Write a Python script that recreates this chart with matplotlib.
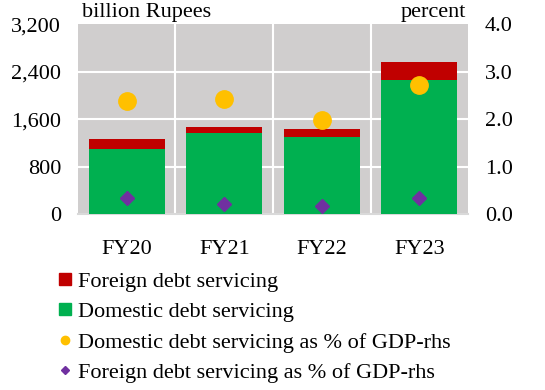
import matplotlib.pyplot as plt
from matplotlib.lines import Line2D

# values
years = ["FY20", "FY21", "FY22", "FY23"]
domestic = [1095, 1364, 1297, 2262]      # billion Rupees
foreign = [168, 101, 135, 298]           # billion Rupees
domestic_gdp = [2.39, 2.43, 1.98, 2.72]  # percent (rhs)
foreign_gdp = [0.33, 0.21, 0.17, 0.34]   # percent (rhs)
left_ticks = [0, 800, 1600, 2400, 3200]
right_ticks = [0.0, 1.0, 2.0, 3.0, 4.0]

RED = "#C00000"
GREEN = "#00B050"
YELLOW = "#FFC000"
PURPLE = "#7030A0"
BG = "#D0CECE"

plt.rcParams["font.family"] = ["Liberation Serif", "DejaVu Serif"]
plt.rcParams["font.size"] = 16

fig = plt.figure(figsize=(5.45, 3.9), dpi=100)
ax = fig.add_axes([0.143, 0.451, 0.716, 0.487])
ax.set_facecolor(BG)

x = list(range(len(years)))
ax.bar(x, domestic, width=0.78, color=GREEN, zorder=3)
ax.bar(x, foreign, width=0.78, bottom=domestic, color=RED, zorder=3)

ax.set_xlim(-0.5, 3.5)
ax.set_ylim(0, 3200)
ax.set_yticks(left_ticks)
ax.set_yticklabels([f"{v:,}" for v in left_ticks])
ax.set_xticks(x)
ax.set_xticklabels(years)
ax.tick_params(axis="y", length=0, pad=12)
ax.tick_params(axis="x", length=0, pad=19)

# white grid: horizontal at ticks, vertical between categories
for v in left_ticks[1:-1]:
    ax.axhline(v, color="white", lw=1.5, zorder=1)
for b in [0.5, 1.5, 2.5]:
    ax.axvline(b, color="white", lw=1.5, zorder=1)
for s in ["top", "left", "right"]:
    ax.spines[s].set_visible(False)
ax.spines["bottom"].set_color("#D9D9D9")
ax.spines["bottom"].set_linewidth(1.5)

ax2 = ax.twinx()
ax2.set_ylim(0, 4)
ax2.set_yticks(right_ticks)
ax2.set_yticklabels([f"{v:.1f}" for v in right_ticks])
ax2.tick_params(axis="y", length=0, pad=12)
for s in ax2.spines.values():
    s.set_visible(False)
ax2.plot(x, domestic_gdp, ls="none", marker="o", ms=12.5, color=YELLOW, zorder=4)
ax2.plot(x, foreign_gdp, ls="none", marker="D", ms=7.5, color=PURPLE, zorder=4)

fig.text(82 / 545, 1 - 17 / 390, "billion Rupees", ha="left", va="baseline")
fig.text(466 / 545, 1 - 17 / 390, "percent", ha="right", va="baseline")

handles = [
    Line2D([], [], ls="none", marker="s", ms=9, color=RED),
    Line2D([], [], ls="none", marker="s", ms=9, color=GREEN),
    Line2D([], [], ls="none", marker="o", ms=6, color=YELLOW),
    Line2D([], [], ls="none", marker="D", ms=4, color=PURPLE),
]
labels = [
    "Foreign debt servicing",
    "Domestic debt servicing",
    "Domestic debt servicing as % of GDP-rhs",
    "Foreign debt servicing as % of GDP-rhs",
]
fig.legend(handles, labels, loc="upper left", bbox_to_anchor=(58 / 545, 1 - 271 / 390),
           frameon=False, handlelength=0.6, handletextpad=0.3, labelspacing=0.45,
           borderpad=0, borderaxespad=0)

fig.savefig("out.png", dpi=100)
